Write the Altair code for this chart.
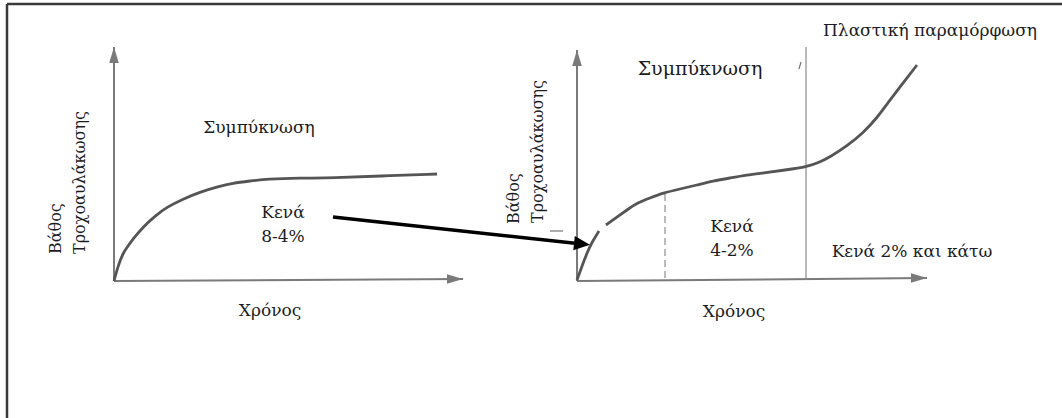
import altair as alt
import pandas as pd

W, H = 1062, 418
SERIF = "DejaVu Serif"

# --- curve points (diagram coordinates: x to the right, y downward) ---
left_curve_x = [114, 118, 123, 128, 133, 143, 155, 167, 183, 200, 217, 233, 250, 267, 300, 333, 380, 437]
left_curve_y = [281, 266, 253, 246, 239, 227, 216, 207, 199, 192, 187, 183, 181, 179, 178, 178, 176, 174]

right_curve_a_x = [577, 582, 587, 592, 599]
right_curve_a_y = [280, 266, 253, 242, 231]
right_curve_b_x = [606, 617, 627, 637, 650, 663, 680, 697, 713, 730, 747, 763, 785, 807, 820, 830, 847, 863, 877, 890, 903, 917]
right_curve_b_y = [225, 217, 210, 203, 198, 193, 189, 185, 181, 178, 175, 173, 170, 167, 162, 157, 146, 133, 118, 100, 83, 65]

# --- axes (origin, top of y axis, end of x axis) ---
axis_origin_x = [114, 577]
axis_origin_y = [281, 281]
axis_top_y = [47, 50]
axis_end_x = [463, 927]
axis_end_y = [279, 278]

# --- labels ---
label_text = ["Συμπύκνωση", "Κενά", "8-4%", "Χρόνος",
              "Πλαστική παραμόρφωση", "Συμπύκνωση", "Κενά", "4-2%",
              "Κενά 2% και κάτω", "Χρόνος"]
label_x = [259, 283, 283, 270, 930, 700, 732, 732, 912, 734]
label_y = [128, 213, 237, 311, 31, 69, 227, 251, 252, 312]
label_size = [17, 17, 17, 17, 17, 19, 17, 17, 17, 17]

ylabel_text = ["Βάθος", "Τροχοαυλάκωσης", "Βάθος", "Τροχοαυλάκωσης"]
ylabel_x = [56, 80, 514, 538]
ylabel_y = [254, 254, 224, 223]

curves = pd.concat([
    pd.DataFrame({"x": left_curve_x, "y": left_curve_y, "seg": "left"}),
    pd.DataFrame({"x": right_curve_a_x, "y": right_curve_a_y, "seg": "right_a"}),
    pd.DataFrame({"x": right_curve_b_x, "y": right_curve_b_y, "seg": "right_b"}),
])

xs = alt.Scale(domain=[0, W], nice=False, zero=False)
ys = alt.Scale(domain=[0, H], nice=False, zero=False, reverse=True)
X = lambda f: alt.X(f, type="quantitative", scale=xs, axis=None)
Y = lambda f: alt.Y(f, type="quantitative", scale=ys, axis=None)

axes_df = pd.DataFrame({"ox": axis_origin_x, "oy": axis_origin_y, "ty": axis_top_y,
                        "ex": axis_end_x, "ey": axis_end_y})
axis_gray = "#7a7a7a"

y_axes = alt.Chart(axes_df).mark_rule(color=axis_gray, strokeWidth=2).encode(
    x=X("ox"), y=Y("oy"), y2=alt.Y2("ty"))
x_axes = alt.Chart(axes_df).mark_rule(color=axis_gray, strokeWidth=2).encode(
    x=X("ox"), x2=alt.X2("ex"), y=Y("oy"), y2=alt.Y2("ey"))

head = "M0,-1L0.6,1L-0.6,1Z"
y_heads = alt.Chart(axes_df).transform_calculate(cy="datum.ty + 8").mark_point(
    shape=head, size=256, filled=True, color=axis_gray, opacity=1).encode(
    x=X("ox"), y=Y("cy:Q"))
x_heads = alt.Chart(axes_df).transform_calculate(cx="datum.ex - 8").mark_point(
    shape=head, size=256, filled=True, color=axis_gray, opacity=1, angle=90).encode(
    x=X("cx:Q"), y=Y("ey"))

curve_lines = alt.Chart(curves).mark_line(
    color="#555555", strokeWidth=2.8, interpolate="basis").encode(
    x=X("x"), y=Y("y"), detail="seg:N", order="x:Q")

# dashed and solid boundaries of the right diagram
bounds_df = pd.DataFrame({"x": [665, 806], "y1": [194, 280], "y2": [280, 47],
                          "kind": ["dash", "solid"]})
dash_line = alt.Chart(bounds_df[bounds_df.kind == "dash"]).mark_rule(
    color="#777", strokeWidth=1, strokeDash=[7, 4]).encode(
    x=X("x"), y=Y("y1"), y2=alt.Y2("y2"))
solid_line = alt.Chart(bounds_df[bounds_df.kind == "solid"]).mark_rule(
    color="#8a8a8a", strokeWidth=1.2).encode(
    x=X("x"), y=Y("y1"), y2=alt.Y2("y2"))

# small stray marks
marks_df = pd.DataFrame({"x1": [550, 801], "x2": [563, 799], "y1": [231, 62], "y2": [231, 69]})
small_marks = alt.Chart(marks_df).mark_rule(color="#777", strokeWidth=1.2).encode(
    x=X("x1"), x2=alt.X2("x2"), y=Y("y1"), y2=alt.Y2("y2"))

# black pointer between the two diagrams
arrow_df = pd.DataFrame({"x1": [333], "y1": [217], "x2": [582], "y2": [244]})
arrow_line = alt.Chart(arrow_df).mark_rule(color="#000", strokeWidth=3.4).encode(
    x=X("x1"), x2=alt.X2("x2"), y=Y("y1"), y2=alt.Y2("y2"))
arrow_head = alt.Chart(arrow_df).mark_point(
    shape="M0,-1L0.9,1L-0.9,1Z", size=256, filled=True, color="#000", opacity=1, angle=96).encode(
    x=X("x2"), y=Y("y2"))

labels_df = pd.DataFrame({"t": label_text, "x": label_x, "y": label_y, "s": label_size})
labels = alt.Chart(labels_df).mark_text(
    font=SERIF, color="#1c1c24", align="center", baseline="middle").encode(
    x=X("x"), y=Y("y"), text="t:N", size=alt.Size("s:Q", scale=None))

ylabels_df = pd.DataFrame({"t": ylabel_text, "x": ylabel_x, "y": ylabel_y})
ylabels = alt.Chart(ylabels_df).mark_text(
    font=SERIF, fontSize=16, color="#1c1c24", angle=270,
    align="left", baseline="middle").encode(
    x=X("x"), y=Y("y"), text="t:N")

# frame along the top and left edges
frame_df = pd.DataFrame({"x1": [7, 7], "x2": [7, W], "y1": [4, 4], "y2": [H, 4]})
frame = alt.Chart(frame_df).mark_rule(color="#3a3a3a", strokeWidth=2.5).encode(
    x=X("x1"), x2=alt.X2("x2"), y=Y("y1"), y2=alt.Y2("y2"))

chart = alt.layer(
    frame, y_axes, x_axes, y_heads, x_heads, dash_line, solid_line, small_marks,
    curve_lines, arrow_line, arrow_head, labels, ylabels
).properties(
    width=W, height=H, padding=0, autosize=alt.AutoSizeParams(type="none"),
    background="white"
).configure_view(stroke=None)

chart.save("out.html", embed_options={"renderer": "svg", "actions": False})
